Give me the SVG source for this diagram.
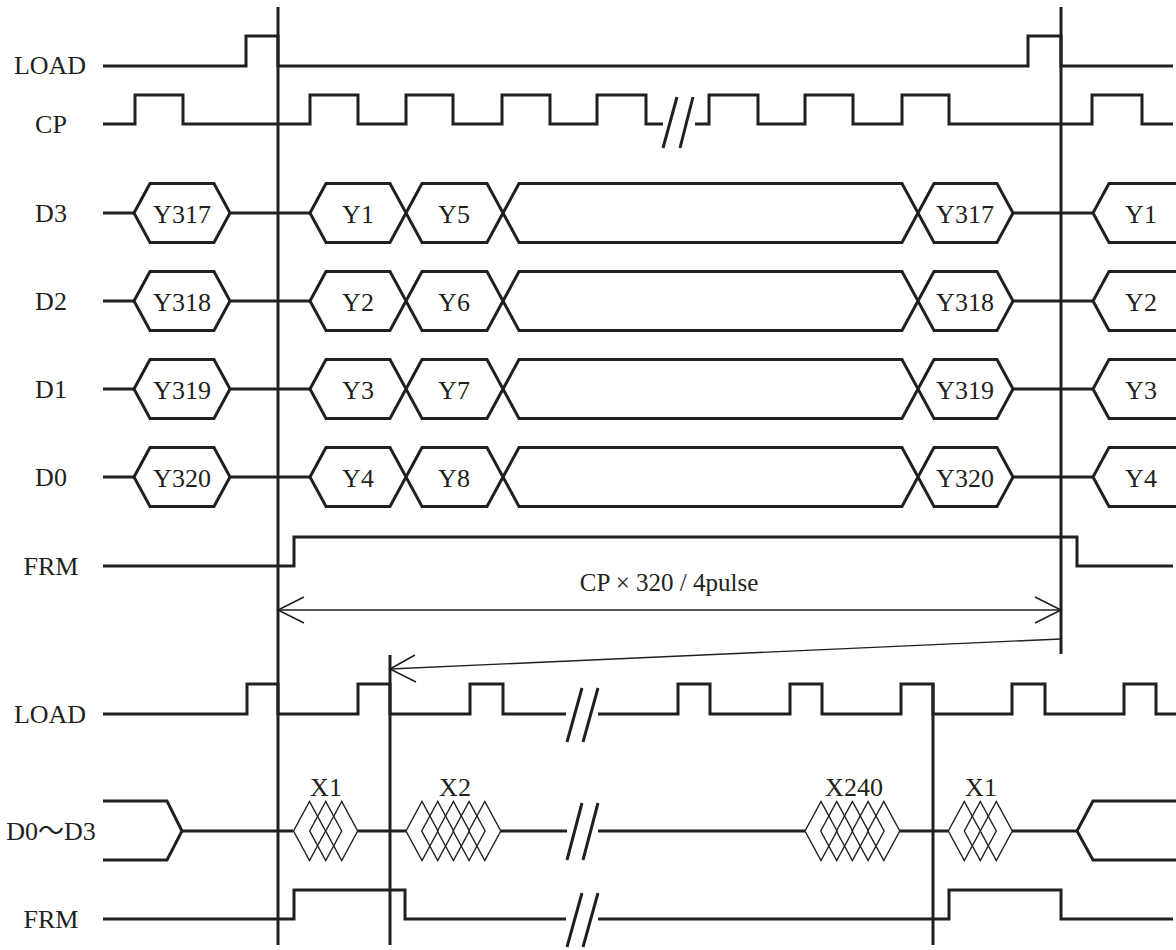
<svg xmlns="http://www.w3.org/2000/svg" xmlns:xlink="http://www.w3.org/1999/xlink" width="1176" height="950" viewBox="0 0 1176 950">
<style>
.sig{fill:none;stroke:#231f20;stroke-width:3;stroke-linejoin:miter}
.bus{fill:none;stroke:#231f20;stroke-width:3;stroke-linejoin:miter}
.thin{fill:none;stroke:#231f20;stroke-width:1.4}
.dia{fill:none;stroke:#231f20;stroke-width:1.4}
.mark{fill:none;stroke:#231f20;stroke-width:1.6}
.lbl{font-family:"Liberation Serif","Noto Sans CJK JP",serif;font-size:26px;fill:#231f20;text-anchor:middle}
.val{font-family:"Liberation Serif",serif;font-size:26px;fill:#231f20;text-anchor:middle}
</style>
<defs>
<path id="dm" class="dia" d="M-16,0 L0,-29.5 L16,0 L0,29.5 Z"/>
</defs>
<rect width="1176" height="950" fill="#fff"/>

<g id="labels">
<text class="lbl" x="50" y="74">LOAD</text>
<text class="lbl" x="51" y="133">CP</text>
<text class="lbl" x="51" y="222">D3</text>
<text class="lbl" x="51" y="310">D2</text>
<text class="lbl" x="51" y="398">D1</text>
<text class="lbl" x="51" y="486">D0</text>
<text class="lbl" x="51" y="575">FRM</text>
<text class="lbl" x="50" y="723">LOAD</text>
<text class="lbl" x="51" y="840">D0～D3</text>
<text class="lbl" x="51" y="928">FRM</text>
</g>

<g id="load-top">
<path class="sig" d="M103,66 H246 V36 H278 V66 H1028 V36 H1061 V66 H1173"/>
</g>

<g id="cp">
<path class="sig" d="M103,124 H135 V95 H183 V124 H310 V95 H358 V124 H406 V95 H453 V124 H502 V95 H550 V124 H597 V95 H646 V124 H663"/>
<path class="sig" d="M695,124 H709 V95 H758 V124 H805 V95 H853 V124 H902 V95 H949 V124 H1092 V95 H1142 V124 H1173"/>
<path class="sig" d="M663,148 L677,97 M680,148 L693,97"/>
</g>

<g id="d3">
<path class="bus" d="M103,213 H134 M230,213 H310 M1013,213 H1093"/>
<path class="bus" d="M134,213 L150,183.5 H214 L230,213 L214,242.5 H150 Z"/>
<path class="bus" d="M310,213 L326,183.5 H390 L406,213 L390,242.5 H326 Z"/>
<path class="bus" d="M406,213 L422,183.5 H487 L503,213 L487,242.5 H422 Z"/>
<path class="bus" d="M503,213 L519,183.5 H902 L918,213 L902,242.5 H519 Z"/>
<path class="bus" d="M918,213 L934,183.5 H997 L1013,213 L997,242.5 H934 Z"/>
<path class="bus" d="M1176,183.5 H1109 L1093,213 L1109,242.5 H1176"/>
<text class="val" x="182" y="223">Y317</text>
<text class="val" x="358" y="223">Y1</text>
<text class="val" x="454" y="223">Y5</text>
<text class="val" x="965" y="223">Y317</text>
<text class="val" x="1141" y="223">Y1</text>
</g>

<g id="d2">
<path class="bus" d="M103,301 H134 M230,301 H310 M1013,301 H1093"/>
<path class="bus" d="M134,301 L150,271.5 H214 L230,301 L214,330.5 H150 Z"/>
<path class="bus" d="M310,301 L326,271.5 H390 L406,301 L390,330.5 H326 Z"/>
<path class="bus" d="M406,301 L422,271.5 H487 L503,301 L487,330.5 H422 Z"/>
<path class="bus" d="M503,301 L519,271.5 H902 L918,301 L902,330.5 H519 Z"/>
<path class="bus" d="M918,301 L934,271.5 H997 L1013,301 L997,330.5 H934 Z"/>
<path class="bus" d="M1176,271.5 H1109 L1093,301 L1109,330.5 H1176"/>
<text class="val" x="182" y="311">Y318</text>
<text class="val" x="358" y="311">Y2</text>
<text class="val" x="454" y="311">Y6</text>
<text class="val" x="965" y="311">Y318</text>
<text class="val" x="1141" y="311">Y2</text>
</g>

<g id="d1">
<path class="bus" d="M103,389 H134 M230,389 H310 M1013,389 H1093"/>
<path class="bus" d="M134,389 L150,359.5 H214 L230,389 L214,418.5 H150 Z"/>
<path class="bus" d="M310,389 L326,359.5 H390 L406,389 L390,418.5 H326 Z"/>
<path class="bus" d="M406,389 L422,359.5 H487 L503,389 L487,418.5 H422 Z"/>
<path class="bus" d="M503,389 L519,359.5 H902 L918,389 L902,418.5 H519 Z"/>
<path class="bus" d="M918,389 L934,359.5 H997 L1013,389 L997,418.5 H934 Z"/>
<path class="bus" d="M1176,359.5 H1109 L1093,389 L1109,418.5 H1176"/>
<text class="val" x="182" y="399">Y319</text>
<text class="val" x="358" y="399">Y3</text>
<text class="val" x="454" y="399">Y7</text>
<text class="val" x="965" y="399">Y319</text>
<text class="val" x="1141" y="399">Y3</text>
</g>

<g id="d0">
<path class="bus" d="M103,477 H134 M230,477 H310 M1013,477 H1093"/>
<path class="bus" d="M134,477 L150,447.5 H214 L230,477 L214,506.5 H150 Z"/>
<path class="bus" d="M310,477 L326,447.5 H390 L406,477 L390,506.5 H326 Z"/>
<path class="bus" d="M406,477 L422,447.5 H487 L503,477 L487,506.5 H422 Z"/>
<path class="bus" d="M503,477 L519,447.5 H902 L918,477 L902,506.5 H519 Z"/>
<path class="bus" d="M918,477 L934,447.5 H997 L1013,477 L997,506.5 H934 Z"/>
<path class="bus" d="M1176,447.5 H1109 L1093,477 L1109,506.5 H1176"/>
<text class="val" x="182" y="487">Y320</text>
<text class="val" x="358" y="487">Y4</text>
<text class="val" x="454" y="487">Y8</text>
<text class="val" x="965" y="487">Y320</text>
<text class="val" x="1141" y="487">Y4</text>
</g>

<g id="frm-top">
<path class="sig" d="M103,566 H294 V537 H1077 V566 H1173"/>
</g>

<g id="load-bottom">
<path class="sig" d="M103,714 H247 V684 H278 V714 H358 V684 H390 V714 H470 V684 H503 V714 H566"/>
<path class="sig" d="M598,714 H678 V684 H710 V714 H790 V684 H822 V714 H901 V684 H933 V714 H1012 V684 H1045 V714 H1124 V684 H1156 V714 H1176"/>
<path class="sig" d="M567,742 L582,688 M583,742 L598,688"/>
</g>

<g id="data-bottom">
<path class="bus" d="M103,801 H167 L182,831 L167,860 H103"/>
<path class="bus" d="M1176,801 H1093 L1077,831 L1093,860 H1176"/>
<path class="bus" d="M182,831 H293 M358,831 H406 M501,831 H567 M598,831 H805 M900,831 H948 M1012,831 H1077"/>
<path class="sig" d="M567,860 L582,803 M583,860 L598,803"/>
<use href="#dm" x="309.5" y="831"/><use href="#dm" x="325.7" y="831"/><use href="#dm" x="341.7" y="831"/>
<use href="#dm" x="422" y="831"/><use href="#dm" x="437.7" y="831"/><use href="#dm" x="453.4" y="831"/><use href="#dm" x="469.1" y="831"/><use href="#dm" x="484.8" y="831"/>
<use href="#dm" x="821" y="831"/><use href="#dm" x="836.7" y="831"/><use href="#dm" x="852.4" y="831"/><use href="#dm" x="868.1" y="831"/><use href="#dm" x="883.8" y="831"/>
<use href="#dm" x="964.3" y="831"/><use href="#dm" x="980.3" y="831"/><use href="#dm" x="996.3" y="831"/>
<text class="val" x="326" y="796">X1</text>
<text class="val" x="455" y="796">X2</text>
<text class="val" x="854" y="796">X240</text>
<text class="val" x="981" y="796">X1</text>
</g>

<g id="frm-bottom">
<path class="sig" d="M103,919 H294 V890 H405 V919 H566"/>
<path class="sig" d="M598,919 H949 V890 H1061 V919 H1173"/>
<path class="sig" d="M567,947 L582,893 M583,947 L598,893"/>
</g>

<g id="connectors">
<path class="sig" d="M278,7 V945 M1061,7 V654 M390,655 V945 M933,683 V945"/>
<path class="thin" d="M278,610 H1061"/>
<path class="mark" d="M304,597 L278,610 L304,623 M1035,597 L1061,610 L1035,623"/>
<path class="thin" d="M1061,639 L390,669"/>
<path class="mark" d="M415,655 L390,669 L416,682"/>
<text class="val" x="669" y="591" style="font-size:25px">CP × 320 / 4pulse</text>
</g>
</svg>
